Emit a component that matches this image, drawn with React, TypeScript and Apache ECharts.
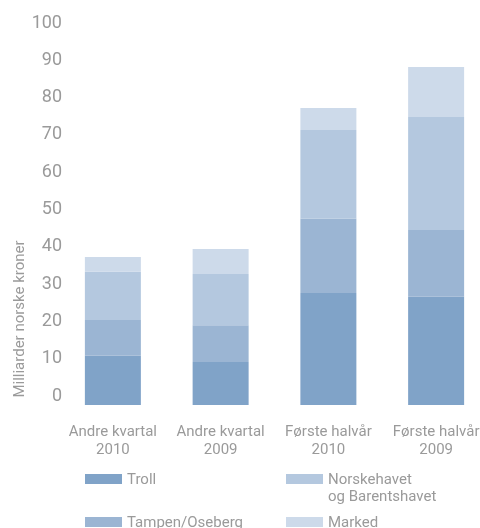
import React, { useEffect, useRef } from "react";
import * as echarts from "echarts";

const categories = ["Andre kvartal\n2010", "Andre kvartal\n2009", "Første halvår\n2010", "Første halvår\n2009"];
const troll = [13.2, 11.5, 30.0, 29.0];
const tampen = [9.6, 9.9, 19.9, 17.9];
const norskehavet = [12.9, 13.7, 23.8, 30.3];
const marked = [4.0, 6.7, 5.9, 13.4];
const seriesNames = ["Troll", "Tampen/Oseberg", "Norskehavet og Barentshavet", "Marked"];
const colors = ["#80a3c8", "#9bb5d3", "#b4c8df", "#cddaea"];
const yTicks = { min: 0, max: 100, interval: 10 };
const axisTitle = "Milliarder norske kroner";

const FONT = "Roboto";
const GREY = "#9a9a9a";

export default function App() {
  const ref = useRef<HTMLDivElement>(null);
  useEffect(() => {
    if (!ref.current) return;
    const chart = echarts.init(ref.current, undefined, { renderer: "svg" });
    const values = [troll, tampen, norskehavet, marked];
    const legendText = { color: GREY, fontFamily: FONT, fontSize: 15, lineHeight: 17 };
    const mkLegend = (name: string, left: number, top: number) => ({
      data: [name],
      left,
      top,
      itemWidth: 37,
      itemHeight: 10,
      itemGap: 0,
      padding: 0,
      selectedMode: false,
      icon: "rect",
      textStyle: legendText,
      ...(name === "Norskehavet og Barentshavet"
        ? { formatter: () => " \nNorskehavet\nog Barentshavet" }
        : {}),
    });
    chart.setOption({
      animation: false,
      grid: { left: 59, right: 0, top: 32, bottom: 123 },
      xAxis: {
        type: "category",
        data: categories,
        axisLine: { show: false },
        axisTick: { show: false },
        axisLabel: {
          interval: 0,
          color: GREY,
          fontFamily: FONT,
          fontSize: 15,
          lineHeight: 18,
          margin: 17,
        },
      },
      yAxis: {
        type: "value",
        min: yTicks.min,
        max: yTicks.max,
        interval: yTicks.interval,
        axisLine: { show: false },
        axisTick: { show: false },
        splitLine: { show: false },
        axisLabel: {
          color: GREY,
          fontFamily: FONT,
          fontSize: 18,
          lineHeight: 18,
          verticalAlign: "bottom",
          margin: -3,
          padding: [0, 0, 2, 0],
        },
      },
      legend: [
        mkLegend("Troll", 85, 470.5),
        mkLegend("Norskehavet og Barentshavet", 286, 453.5),
        mkLegend("Tampen/Oseberg", 85, 513.5),
        mkLegend("Marked", 286, 513.5),
      ],
      graphic: [
        {
          type: "text",
          x: 19,
          y: 319,
          rotation: Math.PI / 2,
          style: {
            text: axisTitle,
            fill: GREY,
            font: `15px ${FONT}`,
            align: "center",
            verticalAlign: "middle",
          },
        },
      ],
      series: seriesNames.map((name, i) => ({
        name,
        type: "bar",
        stack: "total",
        barWidth: 56,
        data: values[i],
        itemStyle: { color: colors[i] },
      })),
    });
    return () => chart.dispose();
  }, []);
  return (
    <div
      ref={ref}
      style={{ position: "fixed", left: 0, top: 0, width: 490, height: 528 }}
    />
  );
}
